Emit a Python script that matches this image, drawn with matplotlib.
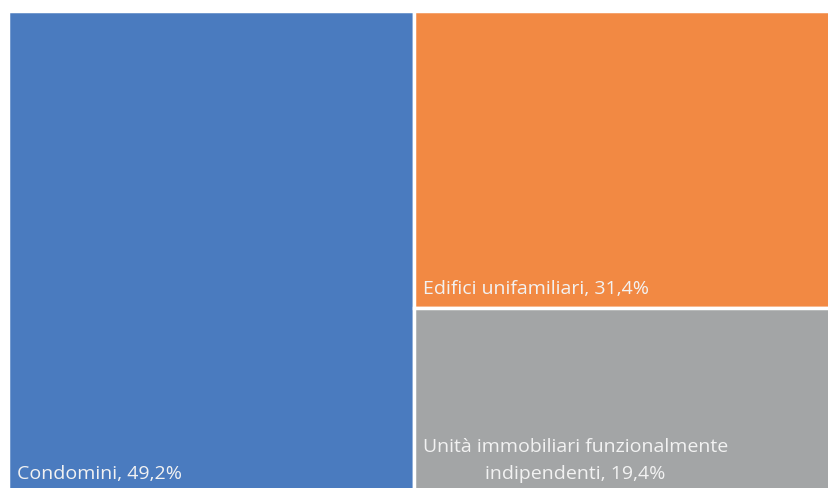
import matplotlib.pyplot as plt
from matplotlib.patches import Rectangle

labels = ['Condomini', 'Edifici unifamiliari', 'Unità immobiliari funzionalmente\nindipendenti']
values = [49.2, 31.4, 19.4]
colors = ['#4A7BBF', '#F28943', '#A3A5A6']

fig = plt.figure(figsize=(8.29, 4.88), dpi=100)
# the treemap runs off the right and bottom edges of the picture
ax = fig.add_axes([8 / 829, -4 / 488, 825 / 829, 481 / 488])
ax.set_xlim(0, 1)
ax.set_ylim(0, 1)
ax.axis('off')

total = sum(values)
w0 = values[0] / total
rest = values[1] + values[2]
h1 = values[1] / rest

rects = [
    (0, 0, w0, 1),
    (w0, 1 - h1, 1 - w0, h1),
    (w0, 0, 1 - w0, 1 - h1),
]

for (x, y, w, h), c in zip(rects, colors):
    ax.add_patch(Rectangle((x, y), w, h, facecolor=c, edgecolor='white', linewidth=2.5))


def label(i):
    return f'{labels[i]}, {values[i]:.1f}'.replace('.', ',') + '%'


font = dict(color='#F2F2F2', fontsize=14, family=['Open Sans', 'DejaVu Sans'])
pad_x = 9 / 825
ax.text(pad_x, 0.018, label(0), ha='left', va='bottom', **font)
ax.text(w0 + pad_x, 1 - h1 + 0.022, label(1), ha='left', va='bottom', **font)
ax.text(w0 + pad_x, 0.018, label(2), ha='left', va='bottom',
        multialignment='center', linespacing=1.65, **font)

fig.savefig('out.png', dpi=100)
